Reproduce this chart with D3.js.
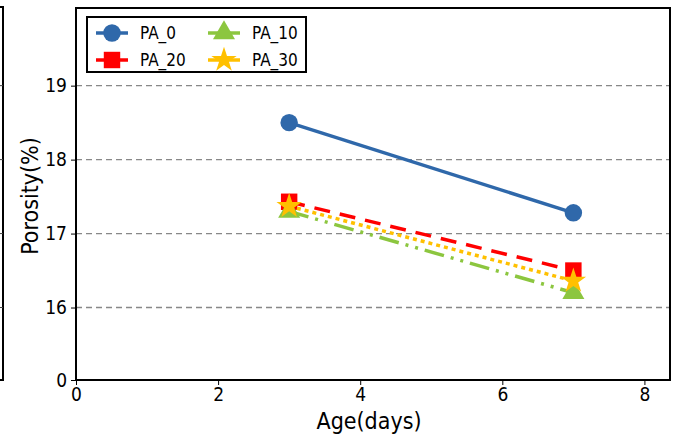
<!DOCTYPE html>
<html>
<head>
<meta charset="utf-8">
<script src="https://cdn.jsdelivr.net/npm/d3@7"></script>
<style>
	body { margin: 0; background: #fff; }
	text { font-family: "DejaVu Sans Condensed", "DejaVu Sans", sans-serif; font-stretch: condensed; }
</style>
</head>
<body>
<svg id="graph" width="675" height="435"></svg>
<script>
var ages = [ 3, 7 ];
var series_names = [ "PA_0", "PA_10", "PA_20", "PA_30" ];
var pa_0  = [ 18.50, 17.28 ];
var pa_10 = [ 17.30, 16.20 ];
var pa_20 = [ 17.43, 16.50 ];
var pa_30 = [ 17.37, 16.36 ];
var x_ticks = [ 0, 2, 4, 6, 8 ];
// broken axis: the bottom tick stands for 0
var y_ticks = [ 15.02, 16, 17, 18, 19 ];
var y_tick_labels = [ "0", "16", "17", "18", "19" ];

var margin = { top : 8, right : 5, bottom : 55, left : 76 };
var svg = d3.select( "#graph" );
var width  = 675 - margin.left - margin.right;
var height = 435 - margin.top  - margin.bottom;

var g = svg.append( "g" )
	.attr( "transform", "translate(" + margin.left + "," + margin.top + ")" );

var x = d3.scaleLinear().domain([ 0, 8.36 ]).range([ 0, width ]);
var y = d3.scaleLinear().domain([ 15.02, 20.05 ]).range([ height, 0 ]);

// cut off panel to the left
svg.append( "path" )
	.attr( "d", "M0,7 H3 V380 H0" )
	.attr( "fill", "none" )
	.attr( "stroke", "#000" )
	.attr( "stroke-width", 2 );
y_ticks.slice( 1 ).forEach(function( t ){
	svg.append( "line" )
		.attr( "x1", 0 ).attr( "x2", 3 )
		.attr( "y1", margin.top + y( t ) ).attr( "y2", margin.top + y( t ) )
		.attr( "stroke", "#444" );
});

// grid
g.append( "g" )
	.selectAll( "line" )
	.data( y_ticks.slice( 1 ) )
	.enter()
	.append( "line" )
		.attr( "x1", 0 ).attr( "x2", width )
		.attr( "y1", d => y( d ) ).attr( "y2", d => y( d ) )
		.attr( "stroke", "#888" )
		.attr( "stroke-width", 1.3 )
		.attr( "stroke-dasharray", "6,4" );

var x_axis = d3.axisBottom( x ).tickValues( x_ticks ).tickSize( 5 ).tickFormat( d => d );
var y_axis = d3.axisLeft( y ).tickValues( y_ticks ).tickSize( 5 )
	.tickFormat( ( d, i ) => y_tick_labels[ i ] );

g.append( "g" )
	.attr( "transform", "translate(0," + height + ")" )
	.call( x_axis )
	.call( a => a.select( ".domain" ).remove() )
	.selectAll( "text" )
		.attr( "font-size", 19 )
		.attr( "dy", "0.7em" )
		.attr( "fill", "#000" );

g.append( "g" )
	.call( y_axis )
	.call( a => a.select( ".domain" ).remove() )
	.selectAll( "text" )
		.attr( "font-size", 19 )
		.attr( "dx", "-1" )
		.attr( "fill", "#000" );

g.append( "rect" )
	.attr( "width", width ).attr( "height", height )
	.attr( "fill", "none" )
	.attr( "stroke", "#000" )
	.attr( "stroke-width", 2 );

// axis titles
svg.append( "text" )
	.attr( "x", margin.left + width / 2 - 4 )
	.attr( "y", 429 )
	.attr( "text-anchor", "middle" )
	.attr( "font-size", 23 )
	.text( "Age(days)" );

svg.append( "text" )
	.attr( "transform", "translate(38," + ( margin.top + 188 ) + ") rotate(-90)" )
	.attr( "text-anchor", "middle" )
	.attr( "font-size", 23 )
	.text( "Porosity(%)" );

var styles = {
	"PA_0"  : { values : pa_0,  color : "#2f68aa", dash : null,              marker : "circle"   },
	"PA_10" : { values : pa_10, color : "#8cc63f", dash : "20,7,3,7,3,7",    marker : "triangle" },
	"PA_20" : { values : pa_20, color : "#ff0000", dash : "16,10",           marker : "square"   },
	"PA_30" : { values : pa_30, color : "#ffc000", dash : "4,4",             marker : "star"     }
};

var symbols = {
	circle   : d3.symbol().type( d3.symbolCircle ).size( 240 ),
	triangle : d3.symbol().type( d3.symbolTriangle ).size( 210 ),
	square   : d3.symbol().type( d3.symbolSquare ).size( 270 ),
	star     : d3.symbol().type( d3.symbolStar ).size( 200 )
};

var line = d3.line()
	.x( d => x( d[0] ) )
	.y( d => y( d[1] ) );

var draw_order = [ "PA_0", "PA_20", "PA_10", "PA_30" ];
draw_order.forEach(function( name ){
	var s = styles[ name ];
	var pts = ages.map( ( a, i ) => [ a, s.values[ i ] ] );
	g.append( "path" )
		.attr( "d", line( pts ) )
		.attr( "fill", "none" )
		.attr( "stroke", s.color )
		.attr( "stroke-width", 3.5 )
		.attr( "stroke-dasharray", s.dash );
	g.append( "g" )
		.selectAll( "path" )
		.data( pts )
		.enter()
		.append( "path" )
			.attr( "transform", d => "translate(" + x( d[0] ) + "," + y( d[1] ) + ")" )
			.attr( "d", symbols[ s.marker ]() )
			.attr( "fill", s.color );
});

// legend
var legend = svg.append( "g" ).attr( "transform", "translate(87,17)" );
legend.append( "rect" )
	.attr( "width", 219 ).attr( "height", 55 )
	.attr( "fill", "#fff" )
	.attr( "stroke", "#000" )
	.attr( "stroke-width", 2 );

var legend_pos = {
	"PA_0"  : [ 0, 0 ],
	"PA_10" : [ 1, 0 ],
	"PA_20" : [ 0, 1 ],
	"PA_30" : [ 1, 1 ]
};
series_names.forEach(function( name ){
	var s = styles[ name ];
	var p = legend_pos[ name ];
	var ox = 9 + p[0] * 112;
	var oy = 16 + p[1] * 27;
	legend.append( "line" )
		.attr( "x1", ox ).attr( "x2", ox + 32 )
		.attr( "y1", oy ).attr( "y2", oy )
		.attr( "stroke", s.color )
		.attr( "stroke-width", 3.5 );
	legend.append( "path" )
		.attr( "transform", "translate(" + ( ox + 16 ) + "," + oy + ")" )
		.attr( "d", symbols[ s.marker ]() )
		.attr( "fill", s.color );
	legend.append( "text" )
		.attr( "x", ox + 44 )
		.attr( "y", oy )
		.attr( "dy", "0.36em" )
		.attr( "font-size", 17 )
		.text( name );
});
</script>
</body>
</html>
